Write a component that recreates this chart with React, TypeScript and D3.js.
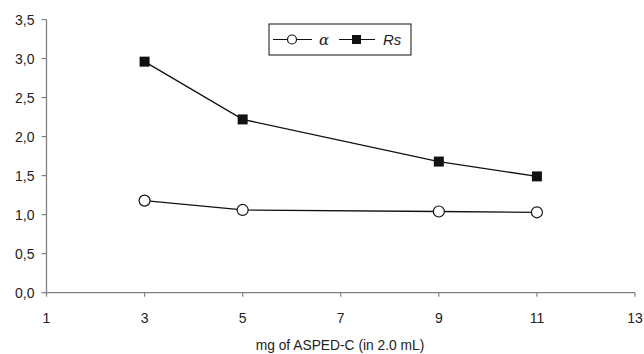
import * as d3 from "d3";

const xValues = [3, 5, 9, 11];
const alphaValues = [1.18, 1.06, 1.04, 1.03];
const rsValues = [2.96, 2.22, 1.68, 1.49];
const xTicks = [1, 3, 5, 7, 9, 11, 13];
const yTicks = [0, 0.5, 1, 1.5, 2, 2.5, 3, 3.5];

export default function App() {
  const width = 644;
  const height = 354;
  const x = d3.scaleLinear().domain([1, 13]).range([46.5, 635]);
  const y = d3.scaleLinear().domain([0, 3.5]).range([292.7, 19.5]);
  const fmt = (v: number) => v.toFixed(1).replace(".", ",");
  const line = d3.line<number>().x((_, i) => x(xValues[i])).y((d) => y(d));
  const axisColor = "#808080";
  const font = "'Liberation Sans', Arial, sans-serif";

  return (
    <svg width={width} height={height} style={{ position: "absolute", left: 0, top: 0 }} fontFamily={font}>
      <rect width={width} height={height} fill="white" />
      {/* axes */}
      <line x1={x(1)} x2={x(13)} y1={y(0)} y2={y(0)} stroke={axisColor} strokeWidth={1.3} />
      <line x1={x(1)} x2={x(1)} y1={y(0)} y2={y(3.5)} stroke={axisColor} strokeWidth={1.3} />
      {yTicks.map((t) => (
        <g key={"y" + t}>
          <line x1={x(1) - 5} x2={x(1)} y1={y(t)} y2={y(t)} stroke={axisColor} strokeWidth={1.2} />
          <text x={x(1) - 12} y={y(t)} dy="0.36em" textAnchor="end" fontSize={14} fill="#222">
            {fmt(t)}
          </text>
        </g>
      ))}
      {xTicks.map((t) => (
        <g key={"x" + t}>
          <line x1={x(t)} x2={x(t)} y1={y(0)} y2={y(0) + 4} stroke={axisColor} strokeWidth={1.2} />
          <text x={x(t)} y={323} textAnchor="middle" fontSize={14} fill="#222">
            {t}
          </text>
        </g>
      ))}
      <text x={340} y={350} textAnchor="middle" fontSize={13.8} fill="#222">
        mg of ASPED-C (in 2.0 mL)
      </text>

      {/* series */}
      <path d={line(rsValues) ?? ""} fill="none" stroke="#111" strokeWidth={1.3} />
      <path d={line(alphaValues) ?? ""} fill="none" stroke="#111" strokeWidth={1.3} />
      {rsValues.map((v, i) => (
        <rect key={"r" + i} x={x(xValues[i]) - 5} y={y(v) - 5} width={10} height={10} fill="#111" />
      ))}
      {alphaValues.map((v, i) => (
        <circle key={"a" + i} cx={x(xValues[i])} cy={y(v)} r={5.5} fill="white" stroke="#111" strokeWidth={1.2} />
      ))}

      {/* legend */}
      <rect x={269} y={24} width={142} height={31} fill="white" stroke="#111" strokeWidth={1} />
      <line x1={273} x2={312} y1={39.5} y2={39.5} stroke="#111" strokeWidth={1.2} />
      <circle cx={292} cy={39.5} r={4.5} fill="white" stroke="#111" strokeWidth={1.2} />
      <text x={319} y={45} fontSize={15} fontStyle="italic" fontFamily="'DejaVu Serif', serif" fill="#222">
        α
      </text>
      <line x1={339} x2={375} y1={39.5} y2={39.5} stroke="#111" strokeWidth={1.2} />
      <rect x={352} y={35} width={9} height={9} fill="#111" />
      <text x={383} y={45} fontSize={15} fontStyle="italic" fill="#222">
        Rs
      </text>
    </svg>
  );
}
